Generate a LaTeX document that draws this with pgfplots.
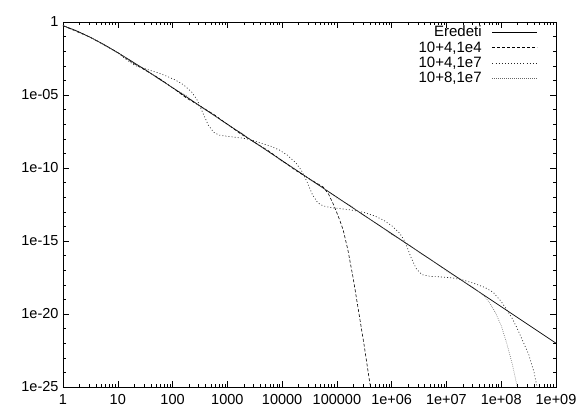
\documentclass[border=0pt]{standalone}
\usepackage{pgfplots}
\pgfplotsset{compat=1.18}
\usepackage{fontspec}
\setmainfont{Liberation Sans}
\newcommand{\lblfont}{\fontsize{14.5}{17}\selectfont}
\newcommand{\legfont}{\fontsize{15}{18}\selectfont}
\begin{document}
\begin{tikzpicture}
\begin{axis}[name=ax, scale only axis, width=493pt, height=365pt,
  xmode=log, ymode=log, xmin=1, xmax=1e9, ymin=1e-25, ymax=1,
  xtick={1,10,100,1000,1e4,1e5,1e6,1e7,1e8,1e9},
  xticklabels={1,10,100,1000,10000,100000,1e+06,1e+07,1e+08,1e+09},
  minor xtick={2,3,4,5,6,7,8,9,20,30,40,50,60,70,80,90,200,300,400,500,600,700,800,900,
    2e3,3e3,4e3,5e3,6e3,7e3,8e3,9e3,2e4,3e4,4e4,5e4,6e4,7e4,8e4,9e4,
    2e5,3e5,4e5,5e5,6e5,7e5,8e5,9e5,2e6,3e6,4e6,5e6,6e6,7e6,8e6,9e6,
    2e7,3e7,4e7,5e7,6e7,7e7,8e7,9e7,2e8,3e8,4e8,5e8,6e8,7e8,8e8,9e8},
  ytick={1e-25,1e-20,1e-15,1e-10,1e-5,1},
  yticklabels={1e-25,1e-20,1e-15,1e-10,1e-05,1},
  minor ytick={1e-24,1e-23,1e-22,1e-21,1e-19,1e-18,1e-17,1e-16,1e-14,1e-13,1e-12,1e-11,
    1e-9,1e-8,1e-7,1e-6,1e-4,1e-3,1e-2,1e-1},
  major tick length=6pt, minor tick length=3pt,
  tick align=inside,
  every tick/.style={black, line width=0.5pt},
  axis line style={black, line width=0.6pt},
  tick label style={font=\lblfont},
  xticklabel style={yshift=-4pt},
  yticklabel style={xshift=-1pt},
  legend style={draw=none, fill=none, nodes={inner sep=1.5pt},
    anchor=north east, at={(rel axis cs:1,1)}, xshift=-15pt, yshift=0pt, row sep=0.5pt},
  legend cell align=right,
  legend plot pos=right,
  legend image code/.code={\path (0pt,0pt); \draw[#1] (9pt,0pt) -- (54pt,0pt);},
]
% Eredeti
\addplot[black, line width=0.7pt] coordinates {
 (1,5.623e-1) (1.778,2.455e-1) (3.162,8.913e-2) (5.623,2.818e-2) (10,7.943e-3)
 (17.78,2.089e-3) (31.62,5.370e-4) (56.23,1.318e-4) (100,3.162e-5)
 (1000,1e-7) (1e4,3.162e-10) (1e5,1e-12) (1e6,3.162e-15) (1e7,1e-17)
 (1e8,3.162e-20) (1e9,1e-22)
};
\addlegendentry{\legfont Eredeti}
% 10+4,1e4
\addplot[black, line width=0.6pt, dash pattern=on 3pt off 2pt] coordinates {
 (1,5.623e-1) (3.162,8.913e-2) (10,7.943e-3) (17.78,1.778e-3) (31.62,5.012e-4)
 (56.23,1.413e-4) (100,3.162e-5) (177.8,6.310e-6) (316.2,1.778e-6) (562.3,4.786e-7)
 (1000,1e-7) (1778,2.089e-8) (3162,5.623e-9) (5623,1.514e-9) (1e4,3.162e-10)
 (1.778e4,6.761e-11) (3.162e4,1.778e-11) (5.623e4,5.012e-12) (7.079e4,1.585e-12)
 (8.913e4,2.512e-13) (1.122e5,2.818e-14) (1.303e5,5.623e-15) (1.585e5,2.512e-16)
 (1.995e5,2.512e-18) (2.512e5,1.259e-20) (3.162e5,6.310e-23) (3.981e5,1.995e-25)
 (4.467e5,2.512e-26)
};
\addlegendentry{\legfont 10+4,1e4}
% 10+4,1e7
\addplot[black!85, line width=0.7pt, dash pattern=on 0.9pt off 2.2pt] coordinates {
 (1,5.623e-1) (1.778,2.455e-1) (3.162,8.913e-2) (5.623,2.818e-2) (10,7.586e-3)
 (14.13,2.818e-3) (19.95,1.122e-3) (28.18,7.079e-4) (39.81,4.786e-4) (56.23,3.162e-4)
 (79.43,1.905e-4) (112.2,1.072e-4) (158.5,5.012e-5) (223.9,1.585e-5) (281.8,4.467e-6)
 (354.8,6.310e-7) (446.7,8.913e-8) (562.3,2.818e-8) (707.9,1.778e-8) (1000,1.479e-8)
 (1585,1.202e-8) (2512,9.333e-9) (3981,5.248e-9) (6310,3.020e-9) (8913,1.698e-9)
 (1.259e4,7.413e-10) (1.778e4,2.239e-10) (2.239e4,7.079e-11) (2.818e4,1.259e-11)
 (3.548e4,1.585e-12) (4.467e4,4.169e-13) (5.623e4,2.512e-13) (7.943e4,1.905e-13)
 (1.259e5,1.585e-13) (1.995e5,1.259e-13) (3.162e5,8.913e-14) (5.012e5,5.012e-14)
 (7.079e5,2.692e-14) (1e6,1.122e-14) (1.413e6,3.311e-15) (1.778e6,7.943e-16)
 (2.239e6,7.943e-17) (2.818e6,1.259e-17) (3.548e6,5.012e-18) (5.012e6,3.802e-18)
 (7.943e6,3.467e-18) (1.259e7,3.020e-18) (1.995e7,2.138e-18) (3.162e7,1.259e-18)
 (5.012e7,6.607e-19) (7.079e7,3.162e-19) (1e8,7.079e-20) (1.259e8,1.995e-20)
 (1.585e8,5.012e-21) (1.995e8,8.913e-22) (2.512e8,1.259e-22) (3.162e8,1.778e-23)
 (3.981e8,1e-24) (4.786e8,3.162e-26)
};
\addlegendentry{\legfont 10+4,1e7}
% 10+8,1e7
\addplot[black!60, line width=0.6pt, dash pattern=on 0.7pt off 1.3pt] coordinates {
 (1,5.623e-1) (3.162,8.913e-2) (10,7.943e-3) (17.78,1.862e-3) (31.62,5.888e-4)
 (56.23,1.202e-4) (100,3.162e-5) (177.8,8.913e-6) (316.2,1.585e-6) (562.3,4.467e-7)
 (1000,8.913e-8) (1778,2.630e-8) (3162,5.248e-9) (5623,1.413e-9) (1e4,2.818e-10)
 (1.778e4,8.318e-11) (3.162e4,1.660e-11) (5.623e4,4.467e-12) (1e5,8.913e-13)
 (1.778e5,2.630e-13) (3.162e5,5.248e-14) (5.623e5,1.413e-14) (1e6,2.818e-15)
 (1.778e6,8.318e-16) (3.162e6,1.660e-16) (5.623e6,4.467e-17) (1e7,8.913e-18)
 (1.778e7,2.512e-18) (3.162e7,6.026e-19) (5.012e7,1.585e-19) (6.310e7,5.012e-20)
 (7.943e7,1.122e-20) (1e8,1.585e-21) (1.259e8,1e-22) (1.585e8,3.981e-24)
 (1.995e8,7.943e-26)
};
\addlegendentry{\legfont 10+8,1e7}
\end{axis}
\pgfresetboundingbox
\path[use as bounding box] ([xshift=-63pt,yshift=-23pt]ax.south west) rectangle ([xshift=25pt,yshift=22pt]ax.north east);
\end{tikzpicture}
\end{document}
